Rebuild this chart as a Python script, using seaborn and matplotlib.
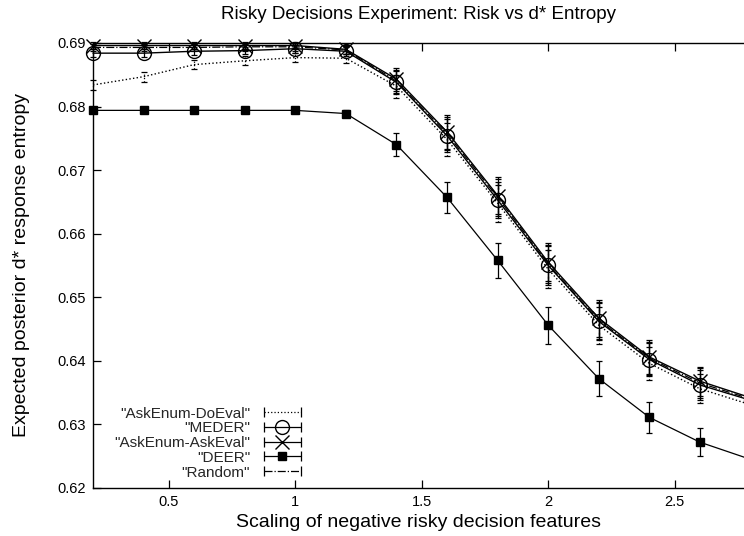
import matplotlib
matplotlib.use("Agg")
import matplotlib.pyplot as plt
from matplotlib.lines import Line2D
from matplotlib.legend_handler import HandlerLine2D, HandlerTuple
import seaborn as sns
import numpy as np

sns.set_theme(style="white")
plt.rcParams['font.family'] = ['Liberation Sans', 'DejaVu Sans']

x = [0.2, 0.4, 0.6, 0.8, 1.0, 1.2, 1.4, 1.6, 1.8, 2.0, 2.2, 2.4, 2.6, 2.8]

ask_enum_do_eval = [0.6834, 0.6847, 0.6866, 0.6872, 0.6877, 0.6876, 0.6832, 0.6748,
                    0.6648, 0.6544, 0.6456, 0.6396, 0.6356, 0.6331]
meder = [0.6884, 0.6884, 0.6887, 0.6888, 0.6891, 0.6887, 0.6838, 0.6754,
         0.6653, 0.6550, 0.6462, 0.6402, 0.6362, 0.6338]
ask_enum_ask_eval = [0.6896, 0.6896, 0.6896, 0.6896, 0.6896, 0.6890, 0.6843, 0.6760,
                     0.6660, 0.6555, 0.6467, 0.6406, 0.6368, 0.6342]
deer = [0.6794, 0.6794, 0.6794, 0.6794, 0.6794, 0.6789, 0.6740, 0.6657,
        0.6558, 0.6456, 0.6372, 0.6311, 0.6272, 0.6245]
random_ = [0.6893, 0.6893, 0.6893, 0.6894, 0.6894, 0.6889, 0.6840, 0.6757,
           0.6657, 0.6552, 0.6464, 0.6404, 0.6365, 0.6340]

err_cluster = [0.0006, 0.0006, 0.0006, 0.0006, 0.0006, 0.0007, 0.0018, 0.0026,
               0.0029, 0.0030, 0.0029, 0.0026, 0.0023, 0.0021]
err_do_eval = [0.0008, 0.0008, 0.0007, 0.0007, 0.0007, 0.0007, 0.0018, 0.0026,
               0.0029, 0.0030, 0.0029, 0.0026, 0.0023, 0.0021]
err_deer = [0.0004, 0.0004, 0.0004, 0.0004, 0.0004, 0.0006, 0.0018, 0.0025,
            0.0028, 0.0029, 0.0027, 0.0024, 0.0022, 0.0020]

labels = ['"AskEnum-DoEval"', '"MEDER"', '"AskEnum-AskEval"', '"DEER"', '"Random"']
title = "Risky Decisions Experiment: Risk vs d* Entropy"
xlabel = "Scaling of negative risky decision features"
ylabel = "Expected posterior d* response entropy"
xticks = [0.5, 1, 1.5, 2, 2.5]
xticklabels = ["0.5", "1", "1.5", "2", "2.5"]
yticks = [0.62, 0.63, 0.64, 0.65, 0.66, 0.67, 0.68, 0.69]

fig = plt.figure(figsize=(7.44, 5.36), dpi=100)
ax = fig.add_axes([0.125, 0.0896, 0.875, 0.8302])

series = [
    (ask_enum_do_eval, err_do_eval, dict(ls=':', marker=None, lw=1.0), ':'),
    (meder, err_cluster, dict(ls='-', marker='o', ms=10, mfc='none', lw=1.0), '-'),
    (ask_enum_ask_eval, err_cluster, dict(ls='-', marker='x', ms=10.5, lw=1.0), '-'),
    (deer, err_deer, dict(ls='-', marker='s', ms=5.5, mfc='black', lw=0.9), '-'),
    (random_, err_cluster, dict(ls='-.', marker=None, lw=0.9), '-.'),
]

handles = []
handler_map = {}
for (ys, es, kw, bls), lab in zip(series, labels):
    sns.lineplot(x=x, y=ys, ax=ax, color='black', markeredgecolor='black',
                 markeredgewidth=1.0, clip_on=False, zorder=3, **kw)
    eb = ax.errorbar(x, ys, yerr=es, fmt='none', ecolor='black', elinewidth=0.9,
                     capsize=2.2, capthick=0.9, clip_on=False, zorder=3)
    for lc in eb[2]:
        lc.set_linestyle(bls)
    cap_line = Line2D([], [], color='black', ls=kw['ls'], lw=0.9, marker='|',
                      ms=7, mew=0.9)
    mk = kw.get('marker')
    mark_line = Line2D([], [], color='black', ls='none', marker=mk if mk else None,
                       ms=kw.get('ms', 6), mfc=kw.get('mfc', 'black'),
                       mec='black', mew=1.0)
    handler_map[cap_line] = HandlerLine2D(numpoints=2)
    handler_map[mark_line] = HandlerLine2D(numpoints=1)
    handles.append((cap_line, mark_line))

ax.set_xlim(0.2, 2.774)
ax.set_ylim(0.62, 0.69)
ax.set_xticks(xticks)
ax.set_xticklabels(xticklabels)
ax.set_yticks(yticks)
ax.set_yticklabels([f"{v:.2f}" for v in yticks])
ax.tick_params(direction='in', length=6, width=0.9, colors='black', labelsize=10.5,
               top=True, bottom=True, left=True, right=False, pad=5)
for s in ['left', 'bottom', 'top']:
    ax.spines[s].set_color('black')
    ax.spines[s].set_linewidth(1.0)
ax.spines['right'].set_visible(False)

ax.set_title(title, fontsize=13.5, pad=17, color='black')
ax.set_xlabel(xlabel, fontsize=14, color='black', labelpad=4)
ax.set_ylabel(ylabel, fontsize=14, color='black', labelpad=20)

handler_map[tuple] = HandlerTuple(ndivide=1, pad=0)
leg = ax.legend(handles, labels, handler_map=handler_map,
                loc='upper right', bbox_to_anchor=(0.326, 0.183), frameon=False,
                markerfirst=False, fontsize=11, handlelength=3.0, handletextpad=0.6,
                labelspacing=0.05, borderpad=0, borderaxespad=0)
for col in leg._legend_handle_box.get_children():
    col.align = 'right'

fig.savefig("out.png", dpi=100)
